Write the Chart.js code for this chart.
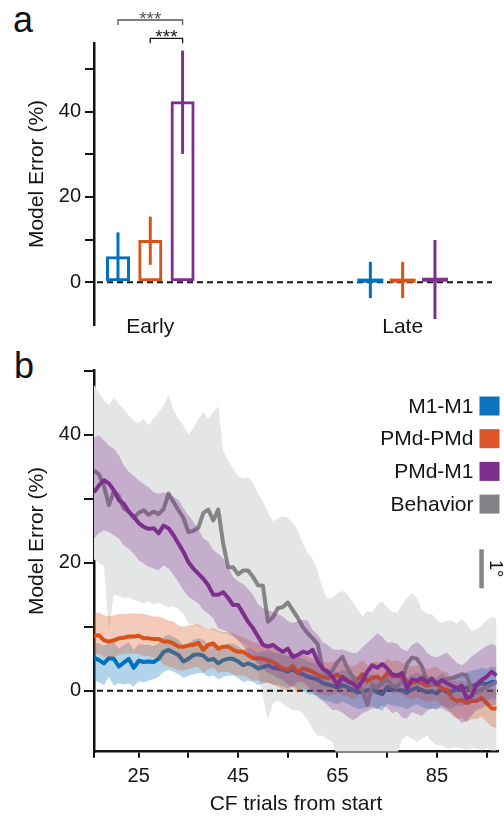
<!DOCTYPE html>
<html><head><meta charset="utf-8">
<script src="https://cdn.jsdelivr.net/npm/chart.js@4.4.1/dist/chart.umd.min.js"></script>
<style>
html,body{margin:0;padding:0;background:#fff;width:504px;height:817px;overflow:hidden;position:relative;}
#ca{position:absolute;left:0;top:0;}
#cb{position:absolute;left:0;top:345px;}
.lbl{position:absolute;font-family:"Liberation Sans",Arial,sans-serif;font-size:36px;color:#111;line-height:1;}
</style></head><body>
<div class="lbl" style="left:13px;top:2px">a</div>
<div class="lbl" style="left:14px;top:348px">b</div>
<canvas id="ca" width="504" height="345"></canvas>
<canvas id="cb" width="504" height="472"></canvas>
<script>
// ---------------- Panel a data ----------------
const groups = ['Early', 'Late'];
const m1Mean = [6.1, 0.4],  m1Lo = [0.5, -3.7],  m1Hi = [11.7, 4.8];
const pmdMean = [9.9, 0.4], pmdLo = [4.1, -3.7], pmdHi = [15.4, 4.8];
const pmdm1Mean = [42.4, 0.6], pmdm1Lo = [30.1, -8.6], pmdm1Hi = [54.3, 9.9];
const aTicks = [0, 10, 20, 30, 40, 50];
const aTickLabels = ['0', '', '20', '', '40', ''];
const sigText = '***';

// ---------------- Panel b data ----------------
const trials = [16,17,18,19,20,21,22,23,24,25,26,27,28,29,30,31,32,33,34,35,36,37,38,39,40,41,42,43,44,45,46,47,48,49,50,51,52,53,54,55,56,57,58,59,60,61,62,63,64,65,66,67,68,69,70,71,72,73,74,75,76,77,78,79,80,81,82,83,84,85,86,87,88,89,90,91,92,93,94,95,96,97];
const bXTicks = [16, 25, 35, 45, 55, 65, 75, 85, 95];
const bXTickLabels = ['', '25', '', '45', '', '65', '', '85', ''];
const bYTicks = [0, 10, 20, 30, 40, 50];
const bYTickLabels = ['0', '', '20', '', '40', ''];

const m1Line = [5.2,4.8,4.3,5.1,5.0,3.8,4.4,5.0,3.6,4.7, 4.5,4.6,4.5,5.0,6.1,6.4,6.0,5.6,4.6,5.0, 5.6,5.7,5.5,4.8,5.0,4.3,4.8,5.0,5.0,4.6, 4.0,4.3,4.0,3.5,3.7,4.0,3.6,3.5,3.3,3.0, 3.4,2.8,2.6,2.2,2.0,1.8,1.2,1.0,0.8,0.5, 0.9,0.6,0.2,-0.2,-0.2,0.1,0.2,-0.2,-0.5,0.6, 0.3,0.2,0.1,-0.3,0.2,0.5,0.1,-0.2,-0.1,-0.4, 0.4,-0.2,-0.1,0.3,0.2,0.5,0.8,0.9,1.2,1.0, 1.4,1.3];
const m1Upper = [7.6,7.4,7.0,7.6,7.6,6.6,7.2,7.6,6.4,7.3, 7.2,7.2,7.0,7.4,8.4,8.8,8.4,8.0,7.0,7.4, 8.0,8.2,8.0,7.2,7.4,6.8,7.2,7.4,7.4,7.0, 6.4,6.8,6.4,5.9,6.1,6.4,6.0,5.9,5.6,5.4, 5.8,5.2,5.0,4.6,4.4,4.2,3.6,3.4,3.2,2.9, 3.3,3.0,2.6,2.2,2.2,2.5,2.6,2.2,1.9,3.0, 2.7,2.6,2.5,2.1,2.6,2.9,2.5,2.2,2.3,2.0, 2.8,2.2,2.3,2.7,2.6,2.9,3.2,3.3,3.6,3.4, 3.8,3.7];
const m1Lower = [1.7,1.3,0.9,2.2,0.8,1.2,1.0,1.2,0.7,1.5, 1.3,1.6,1.8,2.2,3.0,3.3,3.0,2.6,2.0,2.4, 2.6,2.8,2.8,2.2,2.4,1.8,2.2,2.4,2.4,2.0, 1.4,1.6,1.4,0.9,1.1,1.4,1.0,0.9,0.7,0.4, 0.8,0.2,0.0,-0.4,-0.6,-0.8,-1.4,-1.6,-1.8,-2.1, -1.7,-2.0,-2.4,-2.8,-2.8,-2.5,-2.4,-2.8,-3.1,-2.0, -2.3,-2.4,-2.5,-2.9,-2.4,-2.1,-2.5,-2.8,-2.7,-3.0, -2.2,-2.8,-2.7,-2.3,-2.4,-2.1,-1.8,-1.7,-1.4,-1.6, -1.2,-1.3];

const pmdLine = [8.6,8.7,7.9,7.7,7.9,8.2,8.3,8.5,8.5,8.6, 8.2,8.2,8.1,8.1,7.7,7.7,7.4,6.9,6.9,7.1, 7.2,7.5,6.4,7.2,7.4,6.6,6.9,6.9,6.4,6.1, 6.1,5.6,5.1,5.1,5.0,4.8,4.5,4.0,3.5,3.3, 3.9,2.8,3.5,3.3,3.0,2.5,2.2,2.0,2.2,2.5, 1.8,1.7,1.2,1.7,2.6,1.5,2.0,2.2,1.7,2.8, 2.2,2.5,2.0,1.5,1.2,1.5,1.2,0.8,1.0,1.2, 0.2,0.2,-1.1,-1.6,-1.4,-1.9,-1.6,-1.6,-1.1,-1.9, -2.7,-2.8];
const pmdUpper = [12.2,12.2,11.8,11.6,11.8,12.0,12.0,12.1,12.1,12.1, 12.0,11.8,11.6,11.6,11.3,11.0,10.8,10.2,10.0,10.2, 10.4,10.4,10.0,9.6,9.8,9.4,9.2,9.2,9.0,8.6, 8.4,8.0,7.6,7.4,7.2,7.0,6.8,6.4,6.0,5.8, 6.0,5.4,5.6,5.4,5.0,4.8,4.6,4.4,4.6,4.8, 4.2,4.2,3.8,4.2,4.8,4.0,4.4,4.6,4.2,5.0, 4.6,4.8,4.4,4.0,3.8,4.0,3.8,3.4,3.6,3.8, 3.0,3.0,1.8,1.4,1.6,1.0,1.2,1.2,1.6,1.0, 0.4,0.2];
const pmdLower = [5.6,5.8,5.2,5.0,5.2,5.6,5.8,5.8,5.8,5.8, 5.4,5.4,5.2,5.0,4.0,3.8,3.6,3.2,3.2,3.4, 3.6,3.8,2.8,3.4,3.6,2.8,3.0,3.0,2.6,2.4, 2.4,2.0,1.6,1.6,1.4,1.2,1.0,0.6,0.2,0.0, 0.6,-0.4,0.4,0.2,0.0,-0.4,-0.6,-0.8,-0.6,-0.2, -0.8,-0.8,-1.4,-0.8,0.0,-1.0,-0.6,-0.4,-0.8,0.2, -0.4,-0.2,-0.6,-1.0,-1.4,-1.0,-1.4,-1.8,-1.6,-1.4, -2.4,-2.6,-3.8,-4.4,-4.2,-4.8,-4.4,-4.4,-4.0,-4.8, -5.6,-5.8];

const pmdm1Line = [31.0,32.1,32.9,32.4,31.3,29.8,29.2,28.0,27.2,26.2, 25.6,25.3,25.4,24.6,25.8,25.4,24.3,23.0,21.7,20.1, 19.1,18.3,17.5,16.5,15.0,15.0,15.4,14.5,13.4,13.4, 12.1,10.8,9.8,8.5,7.2,6.9,7.2,6.6,6.1,6.6, 5.3,5.6,6.1,5.9,6.4,4.6,3.5,3.0,2.2,0.9, 2.2,1.5,1.2,0.5,1.5,3.0,4.0,3.6,4.2,3.5, 2.6,2.3,2.8,0.3,1.8,1.6,2.0,1.3,1.9,1.0, 1.7,1.2,0.8,0.4,0.8,-1.2,-0.8,1.0,1.7,2.2, 3.0,2.4];
const pmdm1Upper = [39.6,39.9,39.1,38.3,37.8,36.8,35.2,34.2,33.6,32.9, 32.3,31.8,31.0,30.8,31.0,30.8,30.3,29.8,28.5,27.4, 26.4,25.3,23.8,23.3,22.0,21.4,20.7,19.3,17.8,17.1, 16.7,15.9,15.0,13.5,12.9,12.6,12.3,12.0,11.6,10.9, 10.6,10.9,11.1,11.0,9.5,8.8,7.6,7.2,6.5,6.4, 6.5,6.2,5.9,6.0,6.8,7.5,8.2,9.0,8.5,7.5, 7.6,7.3,6.5,6.2,7.2,7.6,7.0,6.0,5.4,5.2, 5.6,6.0,5.2,4.4,4.0,4.5,5.4,5.9,6.5,7.0, 7.3,7.0];
const pmdm1Lower = [23.8,24.6,25.1,24.8,24.3,23.8,22.7,22.2,21.4,20.4, 19.9,19.4,19.1,18.8,19.6,19.1,18.1,17.0,15.7,14.7, 14.2,13.7,12.6,12.1,11.3,9.8,9.5,9.2,8.6,7.8, 7.0,6.0,5.0,4.3,3.4,2.8,2.5,2.0,1.7,1.0, 0.6,1.4,1.4,0.7,-0.2,-1.0,-1.6,-2.2,-3.0,-3.0, -3.4,-4.0,-4.6,-4.2,-3.5,-3.2,-2.7,-2.8,-2.3,-2.6, -3.5,-3.2,-4.2,-4.3,-3.3,-3.6,-3.9,-3.1,-2.8,-2.7, -2.7,-3.2,-3.4,-4.2,-5.0,-4.8,-3.8,-3.0,-2.7,-2.3, -2.2,-2.2];

const behLine = [34.4,33.8,32.0,29.0,31.2,30.4,28.5,28.0,27.0,27.8, 28.2,27.5,28.0,27.6,28.4,30.8,29.5,28.2,27.0,24.8, 25.0,25.5,27.8,28.3,26.6,28.3,23.0,19.3,19.3,18.2, 18.8,18.8,17.8,16.5,16.4,10.8,11.5,12.9,13.1,13.8, 12.6,11.4,10.0,9.0,8.2,7.3,3.5,2.5,3.2,4.5, 5.3,3.5,2.2,1.3,0.0,-2.2,1.0,0.6,1.2,1.8, 0.8,0.6,1.5,4.2,5.2,5.0,3.8,1.5,1.1,1.4, 1.6,1.8,2.0,2.2,2.6,2.4,0.0,-0.3,0.2,0.6, 1.0,1.4];
const behUpper = [47.8,46.5,45.3,44.6,45.8,44.8,44.0,43.0,42.2,41.8, 42.5,41.5,42.5,43.5,44.5,46.2,43.8,42.5,41.5,40.0, 41.0,42.5,43.5,42.5,43.5,44.5,37.5,36.0,34.7,33.5, 33.2,33.4,32.4,30.9,29.6,27.8,26.5,26.9,27.3,27.0, 26.2,25.1,23.1,21.6,20.6,18.7,16.0,14.4,14.6,15.3, 15.6,15.0,13.9,12.8,11.6,12.5,12.2,13.5,14.0,13.0, 12.3,12.2,13.5,14.6,15.2,14.5,12.5,12.0,12.0,11.0, 10.6,11.0,11.0,10.5,11.2,10.5,9.3,9.6,10.2,11.0, 11.5,11.3];
const behLower = [20.5,20.0,19.5,9.5,15.0,14.8,14.5,14.6,14.2,14.0, 13.6,14.0,13.5,13.8,13.4,13.0,13.2,12.8,12.0,10.5, 10.5,10.0,10.0,9.6,9.5,9.2,9.0,8.8,8.5,8.0, 7.5,7.0,6.0,3.0,-1.0,-4.5,-2.0,-1.5,-2.0,-2.5, -3.0,-3.0,-3.5,-4.5,-6.0,-7.0,-7.0,-7.5,-8.0,-10.5, -11,-11,-11,-11,-10.5,-11,-11,-11,-11,-11, -11,-10,-7.5,-7.0,-7.5,-8.0,-7.5,-7.0,-8.0,-8.5, -8.5,-9.0,-9.0,-8.8,-9.0,-9.2,-9.0,-9.0,-9.3,-9.0, -9.3,-9.3];

const scaleBarText = '1\u00B0';
const yTitle = 'Model Error (%)';
const xTitleB = 'CF trials from start';

// ---------------- styling ----------------
const FONT = '"Liberation Sans", Arial, Helvetica, sans-serif';
const INK = '#141414';
Chart.defaults.font.family = FONT;
Chart.defaults.color = INK;

const COL = {blue:'#0072BD', orange:'#D95319', purple:'#7E2F8E', gray:'#858587'};

function drawYTitle(ctx, cx, cy) {
  ctx.save();
  ctx.translate(cx, cy);
  ctx.rotate(-Math.PI / 2);
  ctx.font = '21px ' + FONT;
  ctx.fillStyle = INK;
  ctx.textAlign = 'center';
  ctx.textBaseline = 'middle';
  ctx.fillText(yTitle, 0, 0);
  ctx.restore();
}
function dashedZero(chart) {
  const {ctx, chartArea: ca, scales: {y}} = chart;
  const y0 = y.getPixelForValue(0);
  ctx.save();
  ctx.strokeStyle = INK; ctx.lineWidth = 2; ctx.setLineDash([6, 4]);
  ctx.beginPath(); ctx.moveTo(ca.left + 3, y0); ctx.lineTo(ca.right, y0); ctx.stroke();
  ctx.restore();
}

// ---------------- Panel a ----------------
const aSeries = [
  {label:'M1-M1', mean:m1Mean, lo:m1Lo, hi:m1Hi, color:COL.blue},
  {label:'PMd-PMd', mean:pmdMean, lo:pmdLo, hi:pmdHi, color:COL.orange},
  {label:'PMd-M1', mean:pmdm1Mean, lo:pmdm1Lo, hi:pmdm1Hi, color:COL.purple},
];

const aPlugin = {
  id: 'aExtras',
  beforeDatasetsDraw(chart) { dashedZero(chart); },
  afterDatasetsDraw(chart) {
    const {ctx, chartArea: ca, scales: {x, y}} = chart;
    ctx.save();
    aSeries.forEach((s, di) => {
      const meta = chart.getDatasetMeta(di);
      meta.data.forEach((el, j) => {
        ctx.strokeStyle = s.color;
        ctx.lineCap = 'butt';
        ctx.lineWidth = 3;
        ctx.beginPath();
        ctx.moveTo(el.x, y.getPixelForValue(s.lo[j]));
        ctx.lineTo(el.x, y.getPixelForValue(s.hi[j]));
        ctx.stroke();
        if (j === 1) {
          const ym = y.getPixelForValue(s.mean[j]);
          ctx.lineWidth = 4;
          ctx.beginPath();
          ctx.moveTo(el.x - el.width / 2 - 1, ym);
          ctx.lineTo(el.x + el.width / 2 + 1, ym);
          ctx.stroke();
        }
      });
    });
    // significance brackets
    const xb = chart.getDatasetMeta(0).data[0].x;
    const xo = chart.getDatasetMeta(1).data[0].x;
    const xp = chart.getDatasetMeta(2).data[0].x;
    const bracket = (x1, x2, yTop, color) => {
      ctx.strokeStyle = color; ctx.lineWidth = 1.3;
      ctx.beginPath();
      ctx.moveTo(x1, yTop + 5); ctx.lineTo(x1, yTop); ctx.lineTo(x2, yTop); ctx.lineTo(x2, yTop + 5);
      ctx.stroke();
      ctx.fillStyle = color;
      ctx.font = '19px ' + FONT;
      ctx.textAlign = 'center';
      ctx.textBaseline = 'alphabetic';
      ctx.fillText(sigText, (x1 + x2) / 2, yTop + 4.5);
    };
    bracket(xb, xp, ca.top - 23.3, '#555');
    bracket(xo, xp, ca.top - 5, INK);
    // category labels
    ctx.fillStyle = INK;
    ctx.font = '21px ' + FONT;
    ctx.textAlign = 'center';
    ctx.textBaseline = 'alphabetic';
    groups.forEach((g, i) => ctx.fillText(g, x.getPixelForValue(i), ca.bottom + 7.5));
    ctx.restore();
  },
  afterDraw(chart) { drawYTitle(chart.ctx, 37, 174); }
};

new Chart(document.getElementById('ca'), {
  type: 'bar',
  data: {
    datasets: aSeries.map(s => ({
      label: s.label,
      data: groups.map((g, i) => ({x: i, y: s.mean[i]})),
      borderColor: s.color,
      backgroundColor: 'rgba(255,255,255,0)',
      borderWidth: c => (c.dataIndex === 0 ? 3 : 0),
      borderSkipped: false,
      categoryPercentage: 0.384,
      barPercentage: 0.743,
    }))
  },
  options: {
    responsive: false, animation: false, events: [],
    layout: {padding: {top: 43.3, right: 12, bottom: 0, left: 0}},
    plugins: {legend: {display: false}, tooltip: {enabled: false}},
    scales: {
      x: {
        type: 'linear', offset: false, min: -0.223, max: 1.354,
        grid: {display: false, drawTicks: false}, border: {display: false},
        afterBuildTicks: s => { s.ticks = groups.map((g, i) => ({value: i})); },
        afterFit: s => { s.height = 20; },
        ticks: {display: false}
      },
      y: {
        min: -10, max: 56,
        afterBuildTicks: s => { s.ticks = aTicks.map(v => ({value: v})); },
        afterFit: s => { s.width = 94; },
        grid: {drawOnChartArea: false, tickLength: 9, color: INK, lineWidth: 2},
        border: {color: INK, width: 2.5},
        ticks: {padding: 4, font: {size: 20}, color: INK, autoSkip: false,
                callback: (v, i) => aTickLabels[i] ?? ''}
      }
    }
  },
  plugins: [aPlugin]
});

// ---------------- Panel b ----------------
const bSeries = [
  {label:'M1-M1', color:COL.blue, band:'rgba(0,114,189,0.30)', line:m1Line, upper:m1Upper, lower:m1Lower},
  {label:'PMd-PMd', color:COL.orange, band:'rgba(217,83,25,0.30)', line:pmdLine, upper:pmdUpper, lower:pmdLower},
  {label:'PMd-M1', color:COL.purple, band:'rgba(126,47,142,0.30)', line:pmdm1Line, upper:pmdm1Upper, lower:pmdm1Lower},
  {label:'Behavior', color:COL.gray, band:'#e4e5e5', line:behLine, upper:behUpper, lower:behLower},
];
const legendColors = ['#0b72bd', '#dc5427', '#7d2e8d', '#808285'];
const [M1, PMD, PMDM1, BEH] = bSeries;
const pts = arr => trials.map((t, i) => ({x: t, y: arr[i]}));
const bandUp = (s, order) => ({data: pts(s.upper), borderWidth: 0, borderColor: 'rgba(0,0,0,0)', pointRadius: 0, fill: false, order});
const bandLo = (s, target, order) => ({data: pts(s.lower), borderWidth: 0, borderColor: 'rgba(0,0,0,0)', pointRadius: 0,
  fill: {target}, backgroundColor: s.band, order});
const lineDs = (s, order) => ({label: s.label, data: pts(s.line), borderColor: s.color, borderWidth: 4, pointRadius: 0,
  fill: false, order, borderJoinStyle: 'round', borderCapStyle: 'butt'});

const bPlugin = {
  id: 'bExtras',
  beforeDatasetDraw(chart, args) { if (args.index === 2) dashedZero(chart); },
  afterDraw(chart) {
    const {ctx, chartArea: ca} = chart;
    ctx.save();
    // legend
    ctx.font = '21px ' + FONT;
    ctx.textAlign = 'right';
    ctx.textBaseline = 'middle';
    bSeries.forEach((s, i) => {
      const yc = ca.top + 35.3 + i * 32.7;
      ctx.fillStyle = INK;
      ctx.fillText(s.label, 473.5, yc + 1);
      ctx.fillStyle = legendColors[i];
      ctx.fillRect(479.5, yc - 9.5, 20, 19);
    });
    // scale bar
    ctx.fillStyle = COL.gray;
    ctx.fillRect(479.3, ca.top + 178.6, 4.5, 39);
    ctx.save();
    ctx.translate(490, ca.top + 198);
    ctx.rotate(Math.PI / 2);
    ctx.fillStyle = INK;
    ctx.font = '18px ' + FONT;
    ctx.textAlign = 'center';
    ctx.textBaseline = 'alphabetic';
    ctx.fillText(scaleBarText, 0, 0);
    ctx.restore();
    ctx.restore();
    drawYTitle(ctx, 37, 196);
  }
};

new Chart(document.getElementById('cb'), {
  type: 'line',
  data: {
    datasets: [
      bandUp(BEH, 100), bandLo(BEH, 0, 99),
      bandUp(M1, 90), bandLo(M1, 2, 89),
      lineDs(M1, 80),
      bandUp(PMD, 70), bandLo(PMD, 5, 69),
      lineDs(PMD, 60),
      lineDs(BEH, 50),
      bandUp(PMDM1, 40), bandLo(PMDM1, 9, 39),
      lineDs(PMDM1, 30),
    ]
  },
  options: {
    responsive: false, animation: false, events: [],
    layout: {padding: {top: 25.7, right: 6, bottom: 0, left: 0}},
    plugins: {legend: {display: false}, tooltip: {enabled: false}},
    scales: {
      x: {
        type: 'linear', min: 16, max: 97.3,
        afterBuildTicks: s => { s.ticks = bXTicks.map(v => ({value: v})); },
        afterFit: s => { s.height = 65.3; },
        grid: {drawOnChartArea: false, tickLength: 6, color: INK, lineWidth: 2},
        border: {color: INK, width: 2.5},
        ticks: {padding: 7, font: {size: 20}, color: INK, autoSkip: false, maxRotation: 0,
                callback: (v, i) => bXTickLabels[i] ?? ''},
        title: {display: true, text: xTitleB, font: {size: 21}, color: INK, padding: {top: 0, bottom: 0}}
      },
      y: {
        min: -9.5, max: 50,
        afterBuildTicks: s => { s.ticks = bYTicks.map(v => ({value: v})); },
        afterFit: s => { s.width = 94; },
        grid: {drawOnChartArea: false, tickLength: 10, color: INK, lineWidth: 2},
        border: {color: INK, width: 2.5},
        ticks: {padding: 3, font: {size: 20}, color: INK, autoSkip: false,
                callback: (v, i) => bYTickLabels[i] ?? ''}
      }
    }
  },
  plugins: [bPlugin]
});
</script>
</body></html>
